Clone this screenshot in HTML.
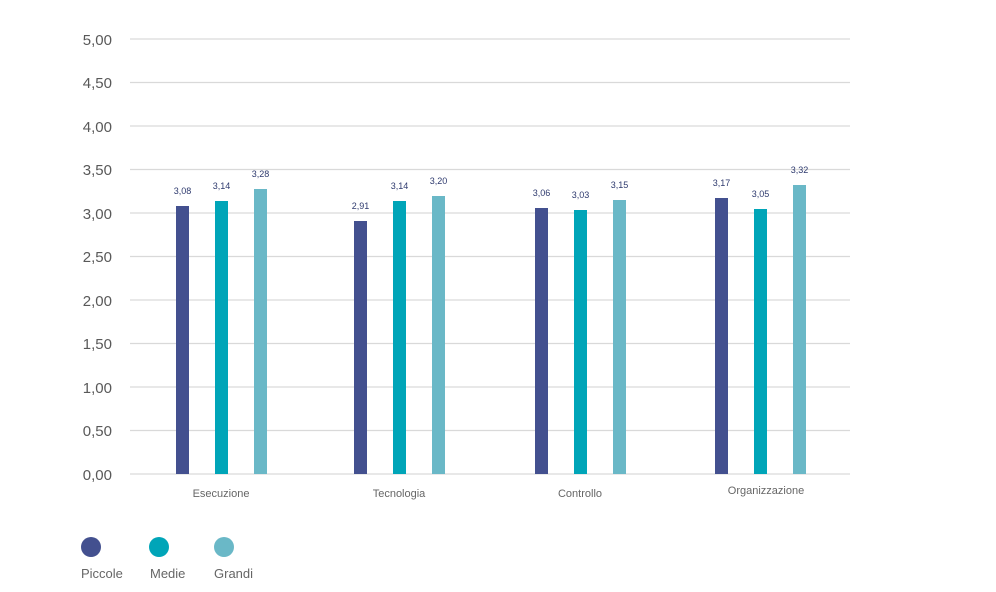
<!DOCTYPE html><html><head><style>body{margin:0;background:#fff}svg{display:block}</style></head><body>
<svg width="996" height="592" xmlns="http://www.w3.org/2000/svg" font-family="Liberation Sans, sans-serif">
<g stroke="#d9d9d9" stroke-width="1.3">
<line x1="130" x2="850" y1="39" y2="39"/><line x1="130" x2="850" y1="82.5" y2="82.5"/><line x1="130" x2="850" y1="126" y2="126"/><line x1="130" x2="850" y1="169.5" y2="169.5"/><line x1="130" x2="850" y1="213" y2="213"/><line x1="130" x2="850" y1="256.5" y2="256.5"/><line x1="130" x2="850" y1="300" y2="300"/><line x1="130" x2="850" y1="343.5" y2="343.5"/><line x1="130" x2="850" y1="387" y2="387"/><line x1="130" x2="850" y1="430.5" y2="430.5"/><line x1="130" x2="850" y1="474" y2="474"/>
</g>
<g fill="#595959" font-size="15" text-anchor="end">
<text x="112" y="45">5,00</text><text x="112" y="88">4,50</text><text x="112" y="132">4,00</text><text x="112" y="175">3,50</text><text x="112" y="219">3,00</text><text x="112" y="262">2,50</text><text x="112" y="306">2,00</text><text x="112" y="349">1,50</text><text x="112" y="393">1,00</text><text x="112" y="436">0,50</text><text x="112" y="480">0,00</text>
</g>
<g>
<rect x="176" y="206" width="13" height="268" fill="#43508f"/><rect x="215" y="201" width="13" height="273" fill="#00a5b8"/><rect x="254" y="189" width="13" height="285" fill="#6ab8c7"/>
<rect x="354" y="221" width="13" height="253" fill="#43508f"/><rect x="393" y="201" width="13" height="273" fill="#00a5b8"/><rect x="432" y="196" width="13" height="278" fill="#6ab8c7"/>
<rect x="535" y="208" width="13" height="266" fill="#43508f"/><rect x="574" y="210" width="13" height="264" fill="#00a5b8"/><rect x="613" y="200" width="13" height="274" fill="#6ab8c7"/>
<rect x="715" y="198" width="13" height="276" fill="#43508f"/><rect x="754" y="209" width="13" height="265" fill="#00a5b8"/><rect x="793" y="185" width="13" height="289" fill="#6ab8c7"/>
</g>
<g fill="#2e3a6e" font-size="9" text-anchor="middle">
<text x="182.5" y="194">3,08</text><text x="221.5" y="189">3,14</text><text x="260.5" y="177">3,28</text>
<text x="360.5" y="209">2,91</text><text x="399.5" y="189">3,14</text><text x="438.5" y="184">3,20</text>
<text x="541.5" y="196">3,06</text><text x="580.5" y="198">3,03</text><text x="619.5" y="188">3,15</text>
<text x="721.5" y="186">3,17</text><text x="760.5" y="197">3,05</text><text x="799.5" y="173">3,32</text>
</g>
<g fill="#666" font-size="11" text-anchor="middle">
<text x="221" y="497">Esecuzione</text><text x="399" y="497">Tecnologia</text><text x="580" y="497">Controllo</text><text x="766" y="494">Organizzazione</text>
</g>
<circle cx="91" cy="547" r="10" fill="#43508f"/><circle cx="159" cy="547" r="10" fill="#00a5b8"/><circle cx="224" cy="547" r="10" fill="#6ab8c7"/>
<g fill="#666" font-size="13"><text x="81" y="578">Piccole</text><text x="150" y="578">Medie</text><text x="214" y="578">Grandi</text></g>
</svg></body></html>
